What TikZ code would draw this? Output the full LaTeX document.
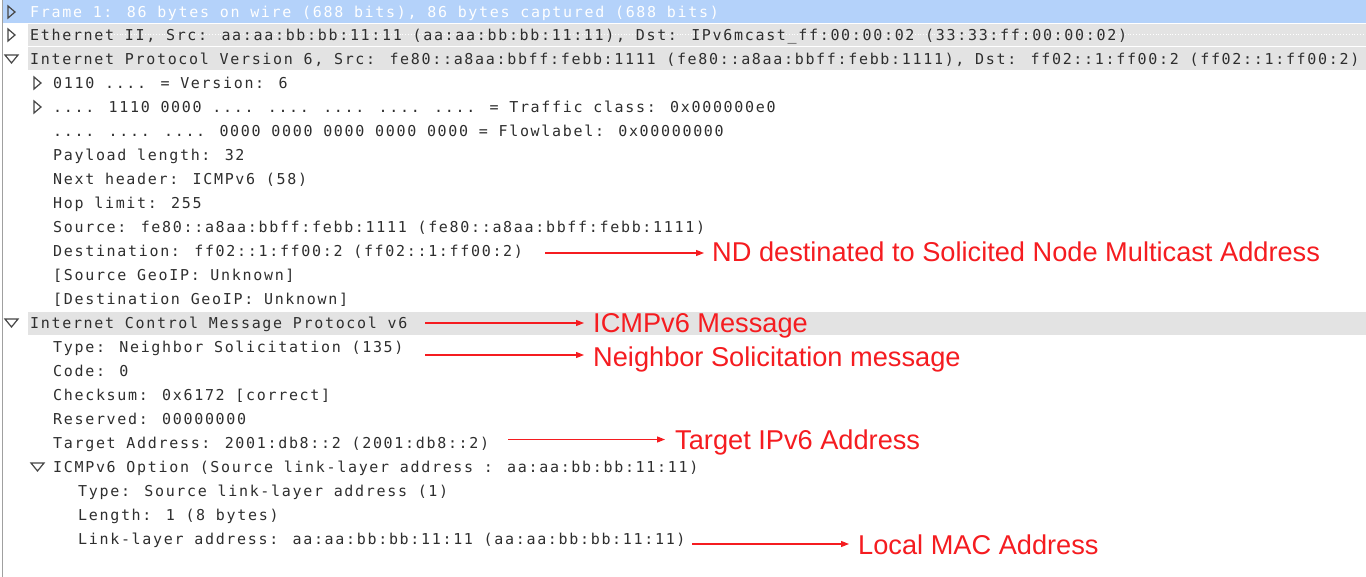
\documentclass[tikz,border=0pt]{standalone}
\usepackage{fontspec}
\setmainfont{Liberation Sans}
\newfontfamily\wsmono[LetterSpace=11.2]{DejaVu Sans Mono}
\newfontfamily\annfont{Liberation Sans}
\definecolor{bandblue}{RGB}{180,210,250}
\definecolor{bandgrey}{RGB}{227,227,227}
\definecolor{txtgrey}{RGB}{46,46,46}
\definecolor{tri}{RGB}{70,70,70}
\definecolor{annred}{RGB}{245,28,32}
\definecolor{borderg}{RGB}{160,160,160}
\tikzset{
  wsline/.style={anchor=base west, inner sep=0pt, font=\wsmono\fontsize{15}{15}\selectfont, text=txtgrey},
  wshead/.style={wsline},
  wssel/.style={wsline, text=white},
  redlab/.style={anchor=base west, inner sep=0pt, font=\annfont\fontsize{27.2}{27.2}\selectfont, text=annred},
  redarrow/.style={draw=annred, line width=1.1pt, -{Triangle[length=8pt,width=6pt]}},
  closedtri/.style={draw=tri, line width=1.2pt, line join=miter},
}
\usetikzlibrary{arrows.meta}
\begin{document}
\begin{tikzpicture}[x=1pt,y=-1pt]
\useasboundingbox (0,0) rectangle (1366,577);
\fill[white] (0,0) rectangle (1366,577);
% bands
\fill[bandblue] (3,0) rectangle (1366,23);
\fill[bandgrey] (28,24) rectangle (1366,46);
\fill[bandgrey] (28,47.5) rectangle (1366,70.5);
\fill[bandgrey] (28,312) rectangle (1366,335);
\draw[white, dotted, line width=0.8pt] (30,34.5) -- (1364,34.5);
\draw[borderg, line width=1pt] (2,0) -- (2,577);
% triangles
\def\rt#1#2{\draw[closedtri] (#1,#2-6) -- (#1,#2+6) -- (#1+7,#2) -- cycle;}
\def\dt#1#2{\draw[closedtri] (#1,#2-4) -- (#1+13,#2-4) -- (#1+6.5,#2+4) -- cycle;}
\rt{8}{12}
\rt{8}{35}
\dt{5}{59}
\rt{34}{83}
\rt{34}{107}
\dt{5}{323}
\dt{31}{467}
% text lines (baseline = row centre + 5.5)
\node[wssel]  (t0)  at (30,17.5)  {Frame 1: 86 bytes on wire (688 bits), 86 bytes captured (688 bits)};
\node[wshead] (t1)  at (30,40.5)  {Ethernet II, Src: aa:aa:bb:bb:11:11 (aa:aa:bb:bb:11:11), Dst: IPv6mcast\_ff:00:00:02 (33:33:ff:00:00:02)};
\node[wshead] (t2)  at (30,64.5)  {Internet Protocol Version 6, Src: fe80::a8aa:bbff:febb:1111 (fe80::a8aa:bbff:febb:1111), Dst: ff02::1:ff00:2 (ff02::1:ff00:2)};
\node[wsline] (t3)  at (53,88.5)  {0110 .... = Version: 6};
\node[wsline] (t4)  at (53,112.5) {.... 1110 0000 .... .... .... .... .... = Traffic class: 0x000000e0};
\node[wsline] (t5)  at (53,136.5) {.... .... .... 0000 0000 0000 0000 0000 = Flowlabel: 0x00000000};
\node[wsline] (t6)  at (53,160.5) {Payload length: 32};
\node[wsline] (t7)  at (53,184.5) {Next header: ICMPv6 (58)};
\node[wsline] (t8)  at (53,208.5) {Hop limit: 255};
\node[wsline] (t9)  at (53,232.5) {Source: fe80::a8aa:bbff:febb:1111 (fe80::a8aa:bbff:febb:1111)};
\node[wsline] (t10) at (53,256.5) {Destination: ff02::1:ff00:2 (ff02::1:ff00:2)};
\node[wsline] (t11) at (53,280.5) {[Source GeoIP: Unknown]};
\node[wsline] (t12) at (53,304.5) {[Destination GeoIP: Unknown]};
\node[wshead] (t13) at (30,328.5) {Internet Control Message Protocol v6};
\node[wsline] (t14) at (53,352.5) {Type: Neighbor Solicitation (135)};
\node[wsline] (t15) at (53,376.5) {Code: 0};
\node[wsline] (t16) at (53,400.5) {Checksum: 0x6172 [correct]};
\node[wsline] (t17) at (53,424.5) {Reserved: 00000000};
\node[wsline] (t18) at (53,448.5) {Target Address: 2001:db8::2 (2001:db8::2)};
\node[wsline] (t19) at (53,472.5) {ICMPv6 Option (Source link-layer address : aa:aa:bb:bb:11:11)};
\node[wsline] (t20) at (78,496.5) {Type: Source link-layer address (1)};
\node[wsline] (t21) at (78,520.5) {Length: 1 (8 bytes)};
\node[wsline] (t22) at (78,544.5) {Link-layer address: aa:aa:bb:bb:11:11 (aa:aa:bb:bb:11:11)};
% annotations
\node[redlab] (l1) at (712,261.5) {ND destinated to Solicited Node Multicast Address};
\node[redlab] (l2) at (593,332.5) {ICMPv6 Message};
\node[redlab] (l3) at (593,366.5) {Neighbor Solicitation message};
\node[redlab] (l4) at (675,449.5) {Target IPv6 Address};
\node[redlab] (l5) at (858,554.5) {Local MAC Address};
\coordinate (a1s) at (545,253);   \coordinate (a1e) at (704,253);
\coordinate (a2s) at (425,323);   \coordinate (a2e) at (584,323);
\coordinate (a3s) at (425,355);   \coordinate (a3e) at (584,355);
\coordinate (a4s) at (508,439.5); \coordinate (a4e) at (665,439.5);
\coordinate (a5s) at (692,544);   \coordinate (a5e) at (849,544);
\draw[redarrow] (a1s) -- (a1e);
\draw[redarrow] (a2s) -- (a2e);
\draw[redarrow] (a3s) -- (a3e);
\draw[redarrow] (a4s) -- (a4e);
\draw[redarrow] (a5s) -- (a5e);
\end{tikzpicture}
\end{document}
